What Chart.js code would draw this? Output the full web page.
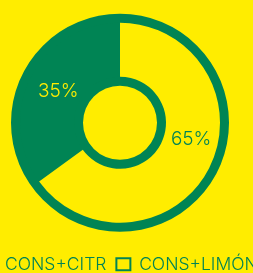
<!DOCTYPE html>
<html>
<head>
  <meta charset="utf-8">
  <title>Doughnut</title>
  <script src="https://cdn.jsdelivr.net/npm/chart.js"></script>
  <style>
    html, body { margin: 0; padding: 0; background: #ffed00; overflow: hidden; }
    .wrap { width: 300px; height: 283px; margin-left: -30px; }
  </style>
</head>
<body>
  <div class="wrap"><canvas id="pie"></canvas></div>
  <script>
    // datos
    const labels = ['CONS+CITR', 'CONS+LIMÓN'];
    const values = [35, 65];
    const colors = ['#008454', '#ffed00'];
    const labelColors = ['#ffed00', '#008454'];
    // donde va cada porcentaje dentro de su trozo (fraccion de angulo / de grosor)
    const spotAngle = [0.5, 0.44];
    const spotRadius = [0.43, 0.5];

    const green = '#008454';
    const ring = 9;

    // anillo verde por fuera y por dentro
    const rings = {
      id: 'rings',
      beforeDatasetsDraw(chart) {
        const arc = chart.getDatasetMeta(0).data[0];
        if (!arc) return;
        const ctx = chart.ctx;
        ctx.save();
        ctx.fillStyle = green;
        ctx.beginPath();
        ctx.arc(arc.x, arc.y, arc.outerRadius + ring, 0, Math.PI * 2);
        ctx.arc(arc.x, arc.y, arc.innerRadius - ring, 0, Math.PI * 2, true);
        ctx.fill();
        ctx.restore();
      }
    };

    const pctLabels = {
      id: 'pctLabels',
      afterDatasetsDraw(chart) {
        const ctx = chart.ctx;
        const arcs = chart.getDatasetMeta(0).data;
        const total = values.reduce((a, b) => a + b, 0);
        ctx.save();
        ctx.font = '300 19px Inter';
        ctx.textAlign = 'center';
        ctx.textBaseline = 'middle';
        arcs.forEach((arc, i) => {
          const a = arc.startAngle + (arc.endAngle - arc.startAngle) * spotAngle[i];
          const r = arc.innerRadius + (arc.outerRadius - arc.innerRadius) * spotRadius[i];
          ctx.fillStyle = labelColors[i];
          ctx.fillText(Math.round(values[i] / total * 100) + '%', arc.x + Math.cos(a) * r, arc.y + Math.sin(a) * r);
        });
        ctx.restore();
      }
    };

    const ctx = document.getElementById('pie').getContext('2d');
    new Chart(ctx, {
      type: 'doughnut',
      data: {
        labels: labels,
        datasets: [{
          data: values,
          backgroundColor: colors,
          borderWidth: 0,
          hoverBorderWidth: 0,
          hoverOffset: 0
        }]
      },
      options: {
        responsive: true,
        maintainAspectRatio: false,
        animation: false,
        radius: 100,
        cutout: '46%',
        rotation: -126,
        layout: { padding: 0 },
        plugins: {
          tooltip: { enabled: false },
          legend: {
            position: 'bottom',
            labels: {
              color: green,
              font: { family: 'Inter', size: 17.5, weight: '300' },
              boxWidth: 14,
              boxHeight: 12,
              padding: 10,
              generateLabels(chart) {
                const items = Chart.overrides.doughnut.plugins.legend.labels.generateLabels(chart);
                items.forEach(it => { it.lineWidth = 2; it.strokeStyle = green; });
                return items;
              }
            }
          }
        }
      },
      plugins: [rings, pctLabels]
    });
  </script>
</body>
</html>
